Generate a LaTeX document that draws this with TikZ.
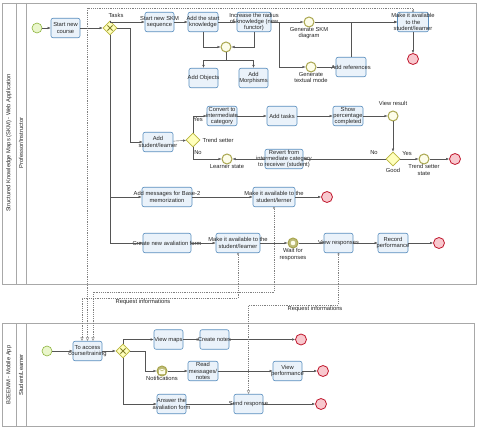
\documentclass[tikz,border=0pt]{standalone}
\usepackage{fontspec}
\setmainfont{Liberation Sans}
\usetikzlibrary{arrows.meta,shapes.geometric}
\definecolor{taskline}{HTML}{5A8FBF}
\definecolor{taskfill}{HTML}{EAF2FA}
\definecolor{startline}{HTML}{8DB43E}
\definecolor{startfill}{HTML}{EAF6CC}
\definecolor{endline}{HTML}{C0182E}
\definecolor{endfill}{HTML}{F8C8CE}
\definecolor{midline}{HTML}{A9A64E}
\definecolor{midfill}{HTML}{FDFDEA}
\definecolor{gwline}{HTML}{B8B53C}
\definecolor{gwfill}{HTML}{FFFFBC}
\definecolor{flowline}{HTML}{555555}
\definecolor{msgline}{HTML}{808080}
\definecolor{poolline}{HTML}{A8A8A8}
\begin{document}
\begin{tikzpicture}[x=1pt,y=-1pt,font=\fontsize{5.8}{6.2}\selectfont,
    task/.style={draw=taskline,fill=taskfill,rounded corners=2pt,minimum width=30pt,minimum height=19.5pt,line width=0.6pt},
    txt/.style={align=center,inner sep=0pt,text=black!85},
    startev/.style={circle,draw=startline,fill=startfill,minimum size=10pt,inner sep=0pt,line width=0.6pt},
    endev/.style={circle,draw=endline,fill=endfill,minimum size=11pt,inner sep=0pt,line width=0.8pt},
    midev/.style={circle,draw=midline,fill=midfill,minimum size=10pt,inner sep=0pt,line width=1pt,label distance=1.5pt},
    gw/.style={diamond,draw=gwline,fill=gwfill,minimum size=14pt,inner sep=0pt,line width=0.6pt},
    flow/.style={draw=flowline,line width=0.4pt,-{Latex[length=3pt,width=2.4pt]}},
    msg/.style={draw=msgline,dash pattern=on 1.2pt off 1pt,line width=0.4pt,{Circle[open,length=2pt]}-{Triangle[open,length=3.5pt,width=3pt]}},
    pool/.style={draw=poolline,line width=0.5pt}]
\useasboundingbox (0,0) rectangle (477,433);
\fill[white] (0,0) rectangle (477,433);
\draw[pool] (2,3) rectangle (476,284);
\draw[pool] (16,3) -- (16,284);
\draw[pool] (26,3) -- (26,284);
\draw[pool] (2,323) rectangle (474,426);
\draw[pool] (16,323) -- (16,426);
\draw[pool] (26,323) -- (26,426);
\node[txt,rotate=90] (pool1) at (9,143) {Structured Knowledge Maps (SKM) - Web Application};
\node[txt,rotate=90] (lane1) at (21,143) {Professor/Instructor};
\node[txt,rotate=90] (pool2) at (9,375) {B2EEMM - Mobile App};
\node[txt,rotate=90] (lane2) at (21,375) {Student/Learner};

\node[startev] (start1) at (37,28) {};
\node[task,minimum width=29pt,label={[txt]center:{Start new\\course}}] (course) at (65.5,28) {};
\node[gw] (gw1) at (110,28) {};
\node[txt] (taskslab) at (116,15) {Tasks};
\node[task,minimum width=29pt,label={[txt]center:{Start new SKM\\sequence}}] (skm) at (159.5,22) {};
\node[task,label={[txt]center:{Add the start\\knowledge}}] (addstart) at (203,22) {};
\node[task,minimum width=34pt,label={[txt]center:{Increase the radius\\of knowledge (new\\functor)}}] (radius) at (254,22) {};
\node[midev] (join1) at (226,47) {};
\node[task,minimum width=29pt,label={[txt]center:{Add Objects}}] (objects) at (203.5,78) {};
\node[task,minimum width=29pt,label={[txt]center:{Add\\Morphisms}}] (morph) at (253.5,78) {};
\node[midev,label={[txt]below:{Generate SKM\\diagram}}] (skmdiag) at (309,22) {};
\node[midev,label={[txt]below:{Generate\\textual mode}}] (textual) at (311,67) {};
\node[task,label={[txt]center:{Add references}}] (addref) at (351,67) {};
\node[task,minimum width=31pt,label={[txt]center:{Make it available\\to the\\student/learner}}] (make1) at (413,22) {};
\node[endev] (end1) at (413,59) {};

\node[task,label={[txt]center:{Add\\student/learner}}] (addst) at (158,142) {};
\node[gw,label={[txt,label distance=2pt]right:{Trend setter}}] (trend) at (193,140) {};
\node[task,label={[txt]center:{Convert to\\intermediate\\category}}] (convert) at (222,116) {};
\node[task,label={[txt]center:{Add tasks}}] (addtasks) at (282,116) {};
\node[task,label={[txt]center:{Show\\percentage\\completed}}] (showp) at (348,116) {};
\node[midev,label={[txt,label distance=5pt]above:{View result}}] (viewres) at (393,116) {};
\node[gw,label={[txt,label distance=1.5pt]below:{Good}}] (good) at (393,159) {};
\node[midev,label={[txt]below:{Trend setter\\state}}] (tsstate) at (424,159) {};
\node[endev] (end2) at (455,159) {};
\node[task,minimum width=38pt,label={[txt]center:{Revert from\\intermediate category\\to receiver (student)}}] (revert) at (284,159) {};
\node[midev,label={[txt]below:{Learner state}}] (learner) at (227,159) {};
\node[txt] (yes1) at (198,120) {Yes};
\node[txt] (no1) at (198,153) {No};
\node[txt] (yes2) at (407,154) {Yes};
\node[txt] (no2) at (374,153) {No};

\node[task,minimum width=50pt,label={[txt]center:{Add messages for Base-2\\memorization}}] (addmsg) at (167,197) {};
\node[task,minimum width=42pt,label={[txt]center:{Make it available to the\\student/lerner}}] (make2) at (274,197) {};
\node[endev] (end3) at (327,197) {};
\node[task,minimum width=48pt,label={[txt]center:{Create new avaliation form}}] (avform) at (167,243) {};
\node[task,minimum width=44pt,label={[txt]center:{Make it available to the\\student/learner}}] (make3) at (238,243) {};
\node[midev,fill=midline!75,label={[txt]below:{Wait for\\responses}}] (wait) at (293,243) {};
\fill[midfill] (wait) circle (2.3pt);
\node[task,minimum width=29pt,label={[txt]center:{View responses}}] (viewresp) at (338.5,243) {};
\node[task,label={[txt]center:{Record\\performance}}] (record) at (393,243) {};
\node[endev] (end4) at (439,243) {};

\node[startev] (start2) at (47,351) {};
\node[task,minimum width=29pt,label={[txt]center:{To access\\course/training}}] (access) at (87.5,351) {};
\node[gw] (gw2) at (123,351) {};
\node[task,minimum width=29pt,label={[txt]center:{View maps}}] (maps) at (168.5,339.5) {};
\node[task,minimum width=29pt,label={[txt]center:{Create notes}}] (notes) at (214.5,339.5) {};
\node[endev] (end5) at (301,339.5) {};
\node[midev,fill=midline!75,label={[txt]below:{Notifications}}] (notif) at (162,371) {};
\draw[midfill,fill=midfill] ([shift={(-2.6,-1.8)}]notif.center) rectangle ([shift={(2.6,1.8)}]notif.center);
\draw[midline,line width=0.4pt] ([shift={(-2.6,-1.8)}]notif.center) -- (notif.center) -- ([shift={(2.6,-1.8)}]notif.center);
\node[task,label={[txt]center:{Read\\messages/\\notes}}] (readmsg) at (203,371) {};
\node[task,minimum width=29pt,label={[txt]center:{View\\performance}}] (viewperf) at (287.5,371) {};
\node[endev] (end6) at (323,371) {};
\node[task,minimum width=29pt,label={[txt]center:{Answer the\\avaliation form}}] (answer) at (171.5,404) {};
\node[task,minimum width=29pt,label={[txt]center:{Send response}}] (send) at (248.5,404) {};
\node[endev] (end7) at (321,404) {};

\foreach \g in {gw1,gw2}
  \draw[line width=0.9pt,gwline!70!black] ([shift={(-2.6,-2.6)}]\g.center) -- ([shift={(2.6,2.6)}]\g.center)
    ([shift={(-2.6,2.6)}]\g.center) -- ([shift={(2.6,-2.6)}]\g.center);

\draw[flow] (start1) -- (course);
\draw[flow] (course) -- (gw1);
\draw[flow] (gw1.north) |- (skm.west);
\draw[flow] (gw1.east) -- ++(13,0) |- (addst.west);
\draw[flow] (gw1.south) |- (addmsg.west);
\draw[flow] (gw1.south) |- (avform.west);
\draw[flow] (skm) -- (addstart);
\draw[flow] (addstart) -- (radius);
\draw[flow] (addstart.south) |- (join1.west);
\draw[flow] (radius.south) |- (join1.east);
\draw[flow] (join1.south) -- ++(0,8) -| (objects.north);
\draw[flow] (join1.south) -- ++(0,8) -| (morph.north);
\draw[flow] (radius.east) -- (skmdiag.west);
\draw[flow] (radius.east) -- ++(8,0) |- (textual.west);
\draw[flow] (textual) -- (addref);
\draw[flow] (skmdiag) -- (make1.west);
\draw[flow] (addref.north) |- (make1.west);
\draw[flow] (make1) -- (end1);
\draw[flow] (addst) -- (trend);
\draw[flow] (trend.north) |- (convert.west);
\draw[flow] (trend.south) |- (learner.west);
\draw[flow] (convert) -- (addtasks);
\draw[flow] (addtasks) -- (showp);
\draw[flow] (showp) -- (viewres);
\draw[flow] (viewres) -- (good);
\draw[flow] (good) -- (tsstate);
\draw[flow] (tsstate) -- (end2);
\draw[flow] (good) -- (revert);
\draw[flow] (revert) -- (learner);
\draw[flow] (addmsg) -- (make2);
\draw[flow] (make2) -- (end3);
\draw[flow] (avform) -- (make3);
\draw[flow] (make3) -- (wait);
\draw[flow] (wait) -- (viewresp);
\draw[flow] (viewresp) -- (record);
\draw[flow] (record) -- (end4);

\draw[flow] (start2) -- (access);
\draw[flow] (access) -- (gw2);
\draw[flow] (gw2.north) |- (maps.west);
\draw[flow] (gw2.east) -- ++(15,0) |- (notif.west);
\draw[flow] (gw2.south) |- (answer.west);
\draw[flow] (maps) -- (notes);
\draw[flow] (notes) -- (end5);
\draw[flow] (notif) -- (readmsg);
\draw[flow] (readmsg) -- (viewperf);
\draw[flow] (viewperf) -- (end6);
\draw[flow] (answer) -- (send);
\draw[flow] (send) -- (end7);

\draw[msg] (make1.north) -- ++(0,-4) -| (access.north);
\draw[msg] (make2.south) -- ++(0,85) -| ([xshift=5.5pt]access.north);
\draw[msg] (make3.south) -- ++(0,45) -| ([xshift=-5.5pt]access.north);
\draw[msg] (viewresp.south) -- ++(0,52) -| (send.north);
\node[txt] (req1) at (143,302) {Request informations};
\node[txt] (req2) at (315,309) {Request informations};
\end{tikzpicture}
\end{document}
